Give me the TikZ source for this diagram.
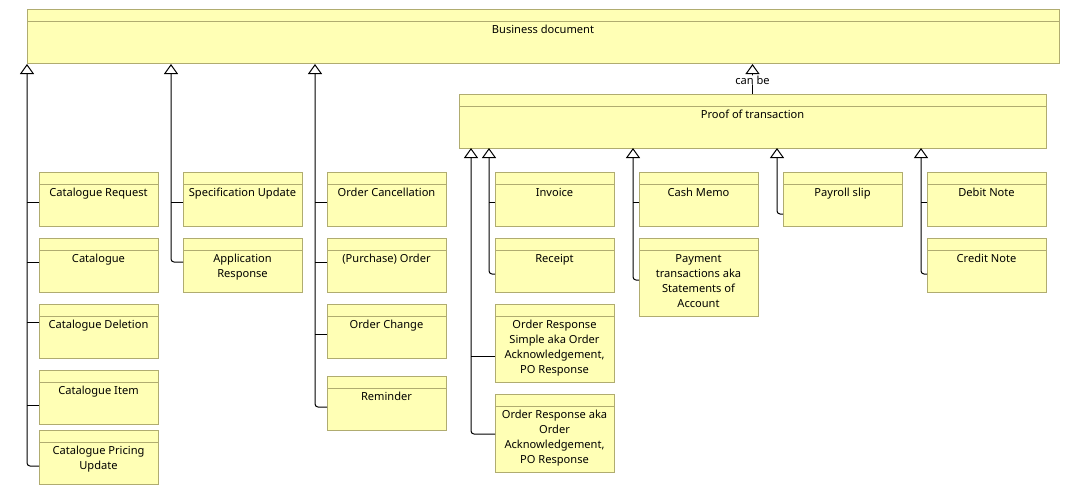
\documentclass[tikz,border=0pt]{standalone}
\usepackage{fontspec}
\setmainfont{Noto Sans}
\usetikzlibrary{arrows.meta}
\definecolor{boxfill}{RGB}{255,255,181}
\definecolor{boxdraw}{RGB}{176,172,112}
\tikzset{
  docbox/.style={draw=boxdraw, fill=boxfill, line width=1pt, anchor=north west,
    inner sep=0pt, outer sep=0pt,
    path picture={\draw[boxdraw, line width=1pt]
      ([yshift=-12pt]path picture bounding box.north west) --
      ([yshift=-12pt]path picture bounding box.north east);}},
  doctext/.style={anchor=base, inner sep=0pt, font=\fontsize{11.1}{15}\selectfont},
  trunk/.style={draw=black, line width=1pt, rounded corners=3pt,
    -{Triangle[open, width=14pt, length=10pt, line width=1pt]}},
  branch/.style={draw=black, line width=1pt},
}
\newcommand\docnode[6]{%
  \node[docbox, minimum width=#4, minimum height=#5] (#1) at (#2,#3) {};
  \node[doctext] (#1-t) at ([yshift=-24pt]#1.north) {\parbox[t]{#4}{\centering #6}};
}
\begin{document}
\begin{tikzpicture}[x=1pt, y=-1pt]
\useasboundingbox (0,0) rectangle (1070,495);
% parents
\docnode{bd}{27}{10}{1032pt}{54pt}{Business document}
\docnode{proof}{459}{94}{587pt}{54pt}{Proof of transaction}
% column 1
\docnode{cr}{39}{172}{119pt}{54pt}{Catalogue Request}
\docnode{cat}{39}{238}{119pt}{54pt}{Catalogue}
\docnode{cdel}{39}{304}{119pt}{54pt}{Catalogue Deletion}
\docnode{citem}{39}{370}{119pt}{54pt}{Catalogue Item}
\docnode{cpu}{39}{430}{119pt}{54pt}{Catalogue Pricing\\Update}
% column 2
\docnode{spec}{183}{172}{119pt}{54pt}{Specification Update}
\docnode{appr}{183}{238}{119pt}{54pt}{Application\\Response}
% column 3
\docnode{ocan}{327}{172}{119pt}{54pt}{Order Cancellation}
\docnode{po}{327}{238}{119pt}{54pt}{(Purchase) Order}
\docnode{ochg}{327}{304}{119pt}{54pt}{Order Change}
\docnode{rem}{327}{376}{119pt}{54pt}{Reminder}
% column 4
\docnode{inv}{495}{172}{119pt}{54pt}{Invoice}
\docnode{rec}{495}{238}{119pt}{54pt}{Receipt}
\docnode{ors}{495}{304}{119pt}{78pt}{Order Response\\Simple aka Order\\Acknowledgement,\\PO Response}
\docnode{or}{495}{394}{119pt}{78pt}{Order Response aka\\Order\\Acknowledgement,\\PO Response}
% column 5
\docnode{cash}{639}{172}{119pt}{54pt}{Cash Memo}
\docnode{pay}{639}{238}{119pt}{78pt}{Payment\\transactions aka\\Statements of\\Account}
% column 6
\docnode{payroll}{783}{172}{119pt}{54pt}{Payroll slip}
% column 7
\docnode{debit}{927}{172}{119pt}{54pt}{Debit Note}
\docnode{credit}{927}{238}{119pt}{54pt}{Credit Note}
% arrow targets
\coordinate (b1) at (bd.south west);
\coordinate (b2) at ([xshift=144pt]bd.south west);
\coordinate (b3) at ([xshift=288pt]bd.south west);
\coordinate (p1) at ([xshift=12pt]proof.south west);
\coordinate (p2) at ([xshift=30pt]proof.south west);
\coordinate (p3) at ([xshift=174pt]proof.south west);
\coordinate (p4) at ([xshift=318pt]proof.south west);
\coordinate (p5) at ([xshift=462pt]proof.south west);
% column 1 connectors
\draw[trunk] ([yshift=-36pt]cpu.north west) -| (b1);
\draw[branch] ([yshift=-30pt]cr.north west) -- ([yshift=-30pt]cr.north west -| b1);
\draw[branch] ([yshift=-24pt]cat.north west) -- ([yshift=-24pt]cat.north west -| b1);
\draw[branch] ([yshift=-18pt]cdel.north west) -- ([yshift=-18pt]cdel.north west -| b1);
\draw[branch] ([yshift=-35pt]citem.north west) -- ([yshift=-35pt]citem.north west -| b1);
% column 2
\draw[trunk] ([yshift=-24pt]appr.north west) -| (b2);
\draw[branch] ([yshift=-30pt]spec.north west) -- ([yshift=-30pt]spec.north west -| b2);
% column 3
\draw[trunk] ([yshift=-31pt]rem.north west) -| (b3);
\draw[branch] ([yshift=-30pt]ocan.north west) -- ([yshift=-30pt]ocan.north west -| b3);
\draw[branch] ([yshift=-24pt]po.north west) -- ([yshift=-24pt]po.north west -| b3);
\draw[branch] ([yshift=-30pt]ochg.north west) -- ([yshift=-30pt]ochg.north west -| b3);
% column 4
\draw[trunk] ([yshift=-40pt]or.north west) -| (p1);
\draw[branch] ([yshift=-52pt]ors.north west) -- ([yshift=-52pt]ors.north west -| p1);
\draw[trunk] ([yshift=-36pt]rec.north west) -| (p2);
\draw[branch] ([yshift=-30pt]inv.north west) -- ([yshift=-30pt]inv.north west -| p2);
% column 5
\draw[trunk] ([yshift=-42pt]pay.north west) -| (p3);
\draw[branch] ([yshift=-30pt]cash.north west) -- ([yshift=-30pt]cash.north west -| p3);
% column 6
\draw[trunk] ([yshift=-42pt]payroll.north west) -| (p4);
% column 7
\draw[trunk] ([yshift=-36pt]credit.north west) -| (p5);
\draw[branch] ([yshift=-30pt]debit.north west) -- ([yshift=-30pt]debit.north west -| p5);
% can be
\draw[trunk] (proof.north) -- (proof.north |- bd.south)
  node[pos=0.47, fill=white, inner sep=0.3pt, font=\fontsize{11.1}{15}\selectfont] (canbe) {can be};
\end{tikzpicture}
\end{document}
